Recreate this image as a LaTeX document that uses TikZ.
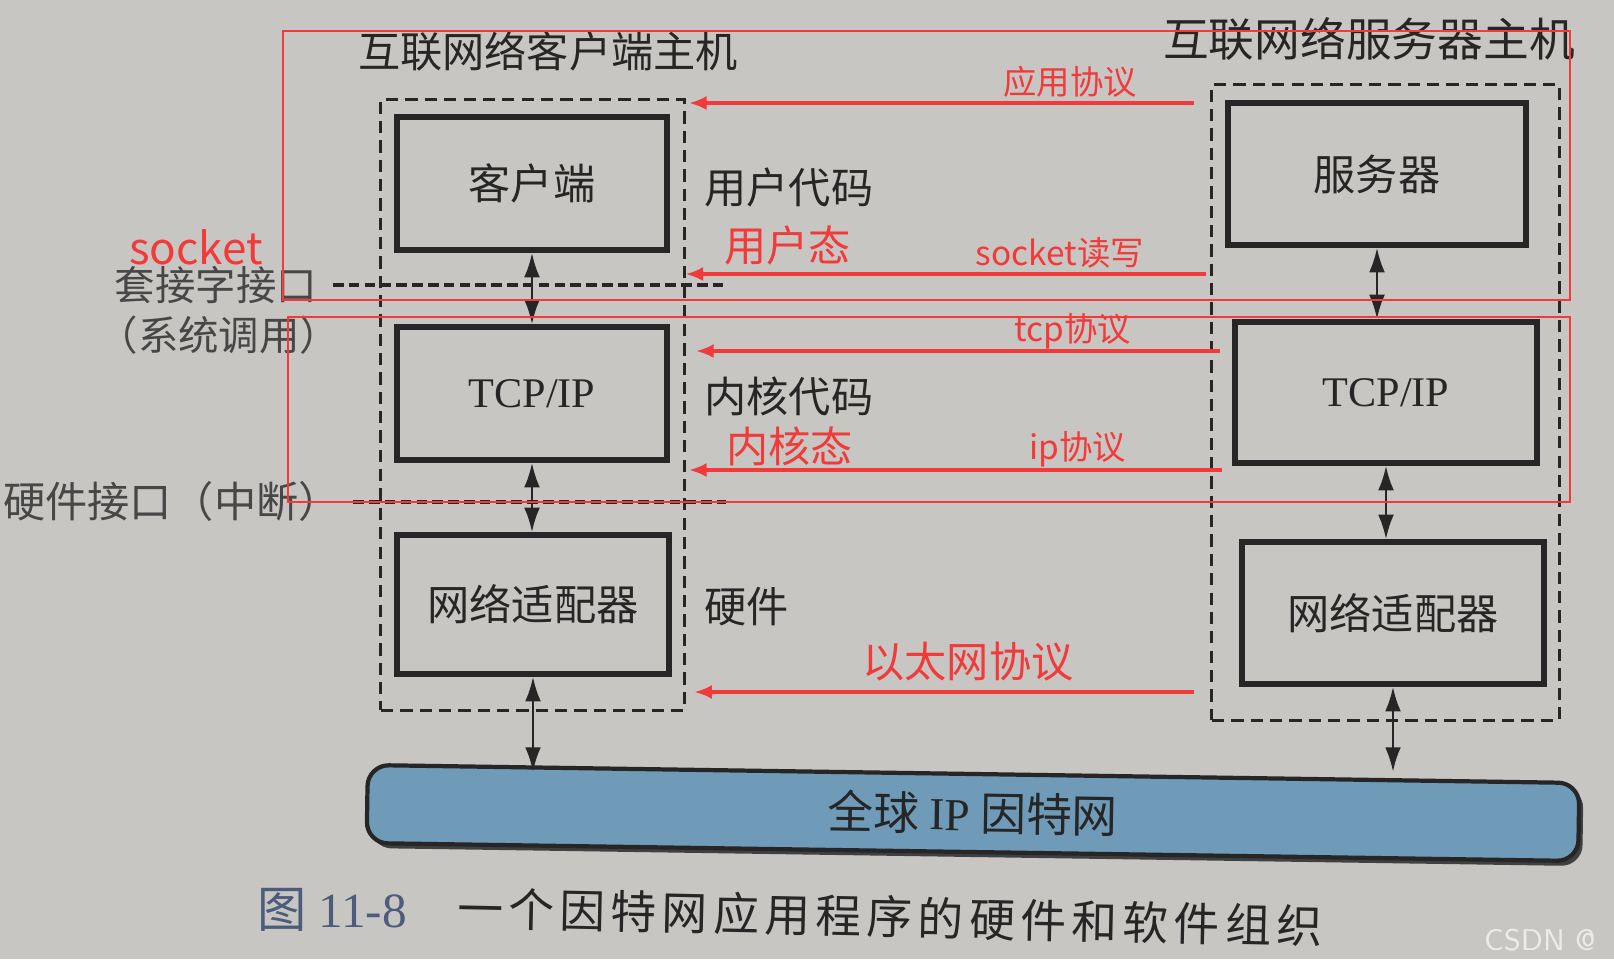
\documentclass[tikz,border=0pt]{standalone}
\usepackage{fontspec}
\setmainfont{Liberation Serif}
\newfontfamily\cjk{Noto Sans CJK SC}
\newfontfamily\capcjk[LetterSpace=12]{Noto Sans CJK SC}
\usetikzlibrary{arrows.meta}
\definecolor{paper}{HTML}{C7C6C3}
\definecolor{ink}{HTML}{262626}
\definecolor{netblue}{HTML}{6F9BB8}
\definecolor{redmark}{HTML}{F23A3A}
\definecolor{capblue}{HTML}{4C5C7A}

\begin{document}
\begin{tikzpicture}[x=0.01cm, y=-0.01cm,
  box/.style={draw=ink, line width=1.5pt, text=ink,
              font=\cjk\fontsize{12}{14}\selectfont},
  host/.style={draw=ink, line width=0.85pt, dash pattern=on 3.5pt off 2pt},
  link/.style={{Latex[length=7pt,width=4.5pt]}-{Latex[length=7pt,width=4.5pt]},
               ink, line width=0.8pt},
  proto/.style={-{Latex[length=5pt,width=4pt]}, redmark, line width=0.9pt},
  iface/.style={ink, line width=1.2pt, dash pattern=on 3pt off 1.5pt},
  tag/.style={text=ink, font=\cjk\fontsize{12}{14}\selectfont},
  side/.style={text=ink!85, font=\cjk\fontsize{11.5}{14}\selectfont},
  rtag/.style={text=redmark, font=\cjk\fontsize{12}{14}\selectfont},
  rsmall/.style={text=redmark, font=\cjk\fontsize{9.5}{11}\selectfont}]
  \useasboundingbox (0,0) rectangle (1614,959);
  \fill[paper] (0,0) rectangle (1614,959);
  % hosts
  \node[tag] (ctitle) at (548,51) {互联网络客户端主机};
  \node[tag, font=\cjk\fontsize{13}{15}\selectfont] (stitle) at (1369,39) {互联网络服务器主机};
  \node[host, minimum width=3.03cm, minimum height=6.10cm] (chost) at (532.5,405) {};
  \node[host, minimum width=3.47cm, minimum height=6.35cm] (shost) at (1385.5,402.5) {};
  % client stack
  \node[box, minimum width=2.7cm, minimum height=1.33cm] (cli) at (532,183.5) {客户端};
  \node[box, minimum width=2.7cm, minimum height=1.33cm] (ctcp) at (532,393.5)
    {\rmfamily TCP/IP};
  \node[box, minimum width=2.72cm, minimum height=1.39cm] (cnic) at (533,604.5) {网络适配器};
  % server stack
  \node[box, minimum width=2.98cm, minimum height=1.42cm] (srv) at (1377,174) {服务器};
  \node[box, minimum width=3.02cm, minimum height=1.41cm] (stcp) at (1386,392.5)
    {\rmfamily TCP/IP};
  \node[box, minimum width=3.02cm, minimum height=1.42cm] (snic) at (1393,613) {网络适配器};
  % the network
  \fill[black!75, rounded corners=6pt, rotate around={-0.85:(973,813)}]
    (371,778) rectangle (1583,857);
  \node[box, fill=netblue, line width=1.2pt, rounded corners=6pt,
        minimum width=12.11cm, minimum height=0.78cm, rotate=-0.85,
        font=\cjk\fontsize{13}{15}\selectfont] (inet) at (973,813)
    {全球 {\rmfamily IP} 因特网};
  % layer links
  \draw[link] (cli.south) -- (cli.south |- ctcp.north);
  \draw[link] (ctcp.south) -- (ctcp.south |- cnic.north);
  \draw[link] (cnic.south) -- (cnic.south |- inet.north);
  \draw[link] (srv.south) -- (srv.south |- stcp.north);
  \draw[link] (stcp.south) -- (stcp.south |- snic.north);
  \draw[link] (snic.south) -- (snic.south |- inet.north);
  % layer names
  \node[tag, anchor=west] (ucode) at (692,187) {用户代码};
  \node[tag, anchor=west] (kcode) at (692,396) {内核代码};
  \node[tag, anchor=west] (hw) at (692,607) {硬件};
  % interfaces
  \node[rtag, font=\cjk\fontsize{12.5}{14}\selectfont] (sockw) at (196,247) {socket};
  \node[side] (sock) at (216,285) {套接字接口};
  \node[side] (syscall) at (219,335) {（系统调用）};
  \node[side, font=\cjk\fontsize{12}{14}\selectfont] (irq) at (172,501) {硬件接口（中断）};
  \coordinate (sockend) at (726,285);
  \coordinate (irqend) at (726,502);
  \draw[iface] (sock.east) ++(1pt,0) -- (sockend);
  \draw[iface] (irq.east) ++(0,1) -- (irqend);
  % annotations: protocol per layer
  \coordinate (papp) at (1194,103);
  \coordinate (psock) at (1206,274);
  \coordinate (ptcp) at (1220,351);
  \coordinate (pip) at (1222,470);
  \coordinate (peth) at (1194,692);
  \draw[proto] (papp) -- ([xshift=1pt]papp -| chost.east);
  \draw[proto] (psock) -- (psock -| chost.east);
  \draw[proto] (ptcp) -- ([xshift=3pt]ptcp -| chost.east);
  \draw[proto] (pip) -- ([xshift=1pt]pip -| chost.east);
  \draw[proto] (peth) -- ([xshift=2.5pt]peth -| chost.east);
  \node[rsmall] (lapp) at (1070,82) {应用协议};
  \node[rsmall] (lsock) at (1060,253) {socket读写};
  \node[rsmall] (ltcp) at (1073,331) {tcp协议};
  \node[rsmall] (lip) at (1078,449) {ip协议};
  \node[rtag] (leth) at (968,662) {以太网协议};
  \node[rtag, anchor=west] (ustate) at (712,245) {用户态};
  \node[rtag, anchor=west] (kstate) at (714,446) {内核态};
  % user / kernel frames
  \draw[redmark, line width=0.5pt] (283,31) rectangle (1570,300);
  \draw[redmark, line width=0.5pt] (288,317) rectangle (1570,502);
  % caption
  \node[text=capblue, font=\fontsize{14}{16}\selectfont] (fig) at (332,910)
    {{\cjk 图} 11-8};
  \node[text=ink, font=\capcjk\fontsize{13}{15}\selectfont, rotate=-1.2]
    (cap) at (890,917) {一个因特网应用程序的硬件和软件组织};
  \node[text=white!92!black, font=\fontsize{8.5}{10}\sffamily, anchor=east]
    (wm) at (1608,940) {CSDN @};
\end{tikzpicture}
\end{document}
